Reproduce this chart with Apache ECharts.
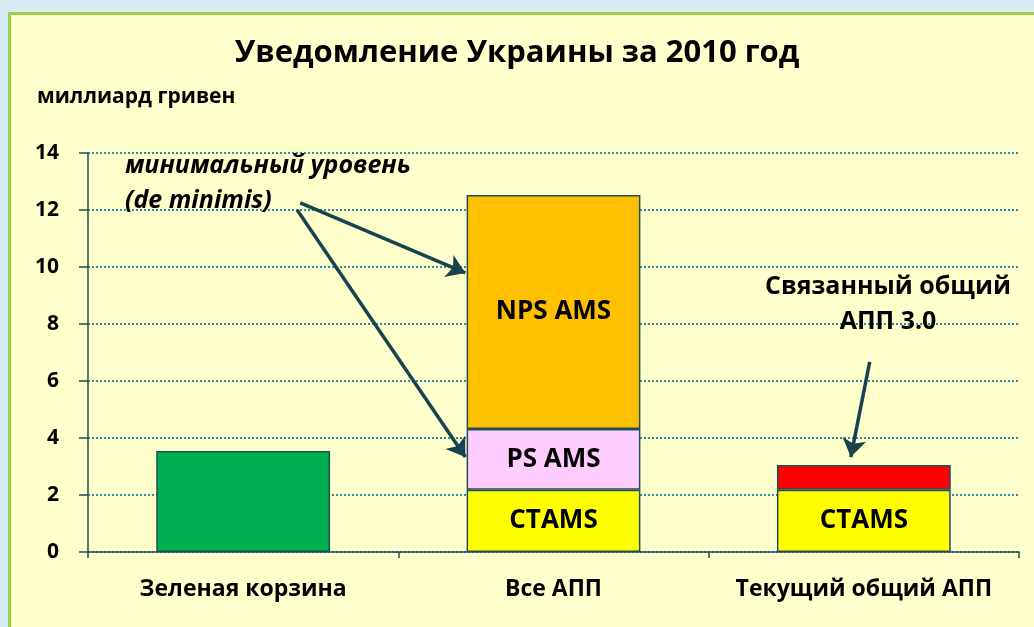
<!DOCTYPE html>
<html>
<head>
<meta charset="utf-8">
<script src="https://cdn.jsdelivr.net/npm/echarts@6/dist/echarts.min.js"></script>
<style>
  html, body { margin: 0; padding: 0; background: #d8ebf3; }
  #bg { position: absolute; left: 8px; top: 12px; width: 1040px; height: 630px;
        background: #ffffcc; border-left: 3px solid #9bcf52; border-top: 3px solid #9bcf52; }
  #chart { position: absolute; left: 0; top: 0; width: 1034px; height: 627px; }
</style>
</head>
<body>
<div id="bg"></div>
<div id="chart"></div>
<script>
  // категории и значения (млрд грн)
  var categories = ['Зеленая корзина', 'Все АПП', 'Текущий общий АПП']
  var greenBox = [3.54, '-', '-']
  var ctams = ['-', 2.18, 2.18]
  var psAms = ['-', 2.14, '-']
  var npsAms = ['-', 8.21, '-']
  var boundRest = ['-', '-', 0.87]
  var yTicks = [0, 2, 4, 6, 8, 10, 12, 14]

  // стрелки-выноски, в координатах (позиция по оси категорий, значение)
  var arrowDeMinimis = [
    [[0.684, 12.25], [1.216, 9.79]],
    [[0.674, 12.0], [1.216, 3.33]]
  ]
  var arrowBound = [[[2.519, 6.67], [2.458, 3.33]]]

  var chart = echarts.init(document.getElementById('chart'))
  var font = '"Open Sans", "Noto Sans", sans-serif'
  var edge = '#1f4e5a'

  function barSeries(name, data, color, label) {
    return {
      name: name,
      type: 'bar',
      stack: 'total',
      barWidth: '56%',
      data: data,
      itemStyle: { color: color, borderColor: edge, borderWidth: 1.5 },
      label: {
        show: !!label,
        position: 'inside',
        formatter: label || '',
        color: '#000',
        fontFamily: font,
        fontWeight: 'bold',
        fontSize: 26
      }
    }
  }

  function arrows(list) {
    return {
      type: 'lines',
      coordinateSystem: 'cartesian2d',
      xAxisIndex: 1,
      yAxisIndex: 0,
      symbol: ['none', 'arrow'],
      symbolSize: 18,
      silent: true,
      lineStyle: { color: '#17434f', width: 3.5, opacity: 1, curveness: 0 },
      data: list.map(function (c) { return { coords: c } }),
      z: 10
    }
  }

  chart.setOption({
    backgroundColor: 'transparent',
    animation: false,
    title: {
      text: 'Уведомление Украины за 2010 год',
      left: 'center',
      top: 33,
      textStyle: { fontFamily: font, fontWeight: 'bold', fontSize: 31, color: '#000' }
    },
    grid: { left: 88, right: 15, top: 153, bottom: 75 },
    xAxis: [
      {
        type: 'category',
        data: categories,
        axisLine: { lineStyle: { color: edge, width: 1.5 } },
        axisTick: { show: true, length: 6, lineStyle: { color: edge, width: 1.5 } },
        axisLabel: { interval: 0, margin: 26, color: '#000', fontFamily: font, fontWeight: 'bold', fontSize: 23 }
      },
      { type: 'value', min: 0, max: 3, show: false }
    ],
    yAxis: {
      type: 'value',
      min: 0,
      max: 14,
      interval: 2,
      axisLine: { show: true, lineStyle: { color: edge, width: 1.5 } },
      axisTick: { show: true, length: 9, lineStyle: { color: edge, width: 1.5 } },
      axisLabel: {
        margin: 29,
        color: '#000',
        fontFamily: font,
        fontWeight: 'bold',
        fontSize: 21,
        formatter: function (v) { return yTicks.indexOf(v) >= 0 ? String(v) : '' }
      },
      splitLine: { lineStyle: { color: '#2e8ba0', type: 'dotted', width: 2 } }
    },
    series: [
      barSeries('Зеленая корзина', greenBox, '#00b050', null),
      barSeries('CTAMS', ctams, '#ffff00', 'CTAMS'),
      barSeries('PS AMS', psAms, '#ffccff', 'PS AMS'),
      barSeries('NPS AMS', npsAms, '#ffc000', 'NPS AMS'),
      barSeries('Связанный общий АПП', boundRest, '#ff0000', null),
      arrows(arrowDeMinimis),
      arrows(arrowBound)
    ],
    graphic: [
      { type: 'text', x: 37, y: 97,
        style: { text: 'миллиард гривен', font: 'bold 21px ' + font, fill: '#000',
                 verticalAlign: 'middle' } },
      { type: 'text', x: 125, y: 148, z: 20,
        style: { text: 'минимальный уровень\n(de minimis)', font: 'italic bold 25px ' + font,
                 fill: '#000', lineHeight: 35, verticalAlign: 'top' } },
      { type: 'text', x: 888, y: 269, z: 20,
        style: { text: 'Связанный общий\nАПП 3.0', font: 'bold 25px ' + font,
                 fill: '#000', lineHeight: 35, align: 'center', verticalAlign: 'top' } }
    ]
  })
</script>
</body>
</html>
